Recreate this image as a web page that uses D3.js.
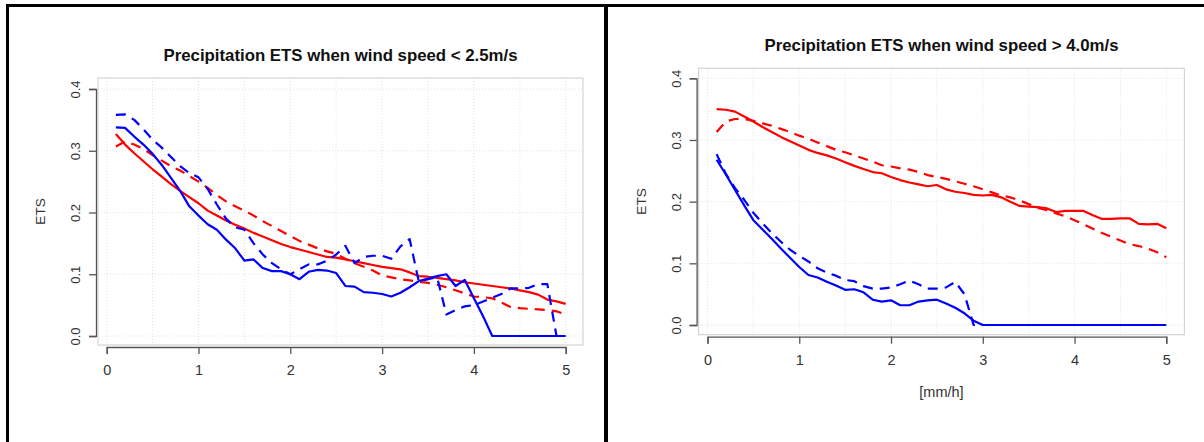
<!DOCTYPE html>
<html><head><meta charset="utf-8">
<script src="https://cdn.jsdelivr.net/npm/d3@7"></script>
<style>
body{margin:0;background:#fff}
svg{display:block}
text{font-family:"Liberation Sans",Arial,Helvetica,sans-serif}
</style>
</head><body>
<svg id="chart" width="1204" height="442"></svg>
<script>
// ---------------- data ----------------
const thresholds = [0.1,0.2,0.3,0.4,0.5,0.6,0.7,0.8,0.9,1.0,
  1.1,1.2,1.3,1.4,1.5,1.6,1.7,1.8,1.9,2.0,
  2.1,2.2,2.3,2.4,2.5,2.6,2.7,2.8,2.9,3.0,
  3.1,3.2,3.3,3.4,3.5,3.6,3.7,3.8,3.9,4.0,
  4.1,4.2,4.3,4.4,4.5,4.6,4.7,4.8,4.9,5.0];

const xTickValues = [0,1,2,3,4,5];
const yTickValues = [0.0,0.1,0.2,0.3,0.4];
const xGridValues = [0,0.5,1,1.5,2,2.5,3,3.5,4,4.5,5];

const lowTitle = "Precipitation ETS when wind speed < 2.5m/s";
const highTitle = "Precipitation ETS when wind speed > 4.0m/s";
const yAxisTitle = "ETS";
const xAxisTitle = "[mm/h]";

// wind speed < 2.5 m/s
const lowBlueSolid = [0.338,0.337,0.323,0.310,0.295,0.277,0.256,0.235,0.210,0.195,
  0.181,0.172,0.156,0.142,0.122,0.124,0.110,0.105,0.105,0.100,
  0.092,0.104,0.107,0.106,0.102,0.081,0.080,0.071,0.070,0.068,
  0.064,0.070,0.079,0.089,0.093,0.097,0.100,0.081,0.091,0.061,
  0.032,0.000,0.000,0.000,0.000,0.000,0.000,0.000,0.000,0.000];
const lowBlueDashed = [0.358,0.359,0.350,0.335,0.318,0.305,0.290,0.275,0.264,0.257,
  0.238,0.213,0.190,0.176,0.172,0.150,0.132,0.118,0.108,0.100,
  0.108,0.116,0.116,0.122,0.132,0.146,0.118,0.128,0.130,0.130,
  0.125,0.145,0.157,0.088,0.092,0.095,0.035,0.042,0.048,0.050,
  0.056,0.062,0.068,0.077,0.077,0.078,0.084,0.084,0.000,0.000];
const lowRedSolid = [0.327,0.310,0.296,0.283,0.270,0.258,0.246,0.235,0.225,0.215,
  0.203,0.195,0.187,0.180,0.174,0.167,0.161,0.155,0.149,0.144,
  0.140,0.136,0.132,0.128,0.127,0.124,0.121,0.118,0.115,0.112,
  0.110,0.108,0.103,0.097,0.096,0.094,0.092,0.090,0.087,0.085,
  0.083,0.081,0.079,0.077,0.074,0.071,0.067,0.059,0.056,0.052];
const lowRedDashed = [0.307,0.315,0.310,0.303,0.293,0.284,0.275,0.268,0.259,0.250,
  0.240,0.228,0.218,0.210,0.203,0.195,0.186,0.178,0.170,0.162,
  0.154,0.148,0.142,0.137,0.133,0.125,0.118,0.112,0.106,0.098,
  0.095,0.092,0.090,0.088,0.086,0.083,0.079,0.074,0.069,0.064,
  0.063,0.061,0.054,0.047,0.045,0.044,0.043,0.042,0.040,0.035];

// wind speed > 4.0 m/s
const highBlueSolid = [0.268,0.244,0.219,0.194,0.170,0.155,0.140,0.124,0.109,0.094,
  0.081,0.077,0.070,0.064,0.057,0.058,0.053,0.041,0.038,0.040,
  0.032,0.032,0.038,0.040,0.041,0.035,0.028,0.019,0.007,0.000,
  0.000,0.000,0.000,0.000,0.000,0.000,0.000,0.000,0.000,0.000,
  0.000,0.000,0.000,0.000,0.000,0.000,0.000,0.000,0.000,0.000];
const highBlueDashed = [0.277,0.245,0.222,0.203,0.182,0.165,0.149,0.135,0.122,0.112,
  0.103,0.092,0.085,0.080,0.073,0.071,0.063,0.059,0.059,0.061,
  0.066,0.072,0.066,0.059,0.059,0.061,0.070,0.050,0.000,0.000,
  0.000,0.000,0.000,0.000,0.000,0.000,0.000,0.000,0.000,0.000,
  0.000,0.000,0.000,0.000,0.000,0.000,0.000,0.000,0.000,0.000];
const highRedSolid = [0.350,0.349,0.346,0.338,0.330,0.321,0.313,0.305,0.298,0.291,
  0.284,0.279,0.275,0.270,0.264,0.258,0.253,0.248,0.246,0.240,
  0.235,0.231,0.228,0.225,0.227,0.220,0.216,0.214,0.211,0.210,
  0.211,0.207,0.200,0.193,0.192,0.191,0.189,0.183,0.185,0.185,
  0.185,0.178,0.172,0.172,0.173,0.173,0.164,0.163,0.164,0.157];
const highRedDashed = [0.313,0.330,0.334,0.334,0.331,0.327,0.323,0.318,0.313,0.307,
  0.302,0.296,0.290,0.284,0.280,0.275,0.270,0.265,0.259,0.257,
  0.254,0.252,0.248,0.243,0.240,0.237,0.233,0.229,0.225,0.220,
  0.215,0.210,0.207,0.202,0.196,0.190,0.186,0.181,0.176,0.170,
  0.163,0.156,0.149,0.143,0.137,0.131,0.128,0.124,0.118,0.110];

// ---------------- layout ----------------
const panels = [
  { title: lowTitle, box: {l: 98, t: 78, r: 583, b: 345}, xr: [106.7, 565.7], yr: [336, 89],
    titleY: 61, series: [
      {v: lowRedSolid, c: "#ff0000", dash: null},
      {v: lowRedDashed, c: "#ff0000", dash: "10,7"},
      {v: lowBlueSolid, c: "#0000ff", dash: null},
      {v: lowBlueDashed, c: "#0000ff", dash: "10,7"}], xlab: false },
  { title: highTitle, box: {l: 698.6, t: 68.3, r: 1184.4, b: 334.7}, xr: [707.5, 1166.3], yr: [325, 78.3],
    titleY: 50.5, series: [
      {v: highRedSolid, c: "#ff0000", dash: null},
      {v: highRedDashed, c: "#ff0000", dash: "10,7"},
      {v: highBlueSolid, c: "#0000ff", dash: null},
      {v: highBlueDashed, c: "#0000ff", dash: "10,7"}], xlab: true }
];

const svg = d3.select("#chart");
svg.append("rect").attr("width", 1204).attr("height", 442).attr("fill", "#fff");

// frame borders
svg.append("rect").attr("x", 6).attr("y", 4).attr("width", 1198).attr("height", 3).attr("fill", "#000");
svg.append("rect").attr("x", 6).attr("y", 4).attr("width", 3).attr("height", 438).attr("fill", "#000");
svg.append("rect").attr("x", 604).attr("y", 4).attr("width", 4).attr("height", 438).attr("fill", "#000");

panels.forEach(p => {
  const g = svg.append("g");
  const x = d3.scaleLinear().domain([0, 5]).range(p.xr);
  const y = d3.scaleLinear().domain([0, 0.4]).range(p.yr);
  const B = p.box;

  // grid
  g.append("g").selectAll("line").data(xGridValues).join("line")
    .attr("x1", d => x(d)).attr("x2", d => x(d))
    .attr("y1", B.t).attr("y2", B.b)
    .attr("stroke", "#e2e2e2").attr("stroke-width", 1).attr("stroke-dasharray", "1,2");
  g.append("g").selectAll("line").data(yTickValues).join("line")
    .attr("x1", B.l).attr("x2", B.r)
    .attr("y1", d => y(d)).attr("y2", d => y(d))
    .attr("stroke", "#e2e2e2").attr("stroke-width", 1).attr("stroke-dasharray", "1,2");

  // box
  g.append("rect").attr("x", B.l).attr("y", B.t).attr("width", B.r - B.l).attr("height", B.b - B.t)
    .attr("fill", "none").attr("stroke", "#d4d4d4").attr("stroke-width", 1.2);

  // lines
  const line = d3.line().x((d, i) => x(thresholds[i])).y(d => y(d));
  p.series.forEach(s => {
    g.append("path").datum(s.v).attr("d", line)
      .attr("fill", "none").attr("stroke", s.c).attr("stroke-width", 2.2)
      .attr("stroke-linejoin", "round")
      .attr("stroke-dasharray", s.dash);
  });

  // y axis
  const ya = g.append("g").attr("transform", `translate(${B.l - 2},0)`)
    .attr("color", "#555")
    .call(d3.axisLeft(y).tickValues(yTickValues).tickFormat(d3.format(".1f")).tickSizeOuter(0).tickSize(7));
  ya.select(".domain").attr("stroke-width", 1.3);
  ya.selectAll(".tick line").attr("stroke-width", 1.3);
  ya.selectAll(".tick text")
    .attr("transform", "rotate(-90)").attr("x", 0).attr("y", -16).attr("dy", "0")
    .attr("text-anchor", "middle").attr("fill", "#333")
    .style("font-size", "13px").style("font-family", '"Liberation Sans",Arial,sans-serif');

  // x axis
  const xa = g.append("g").attr("transform", `translate(0,${B.b + 2})`)
    .attr("color", "#555")
    .call(d3.axisBottom(x).tickValues(xTickValues).tickFormat(d3.format("d")).tickSizeOuter(0).tickSize(7));
  xa.select(".domain").attr("stroke-width", 1.3);
  xa.selectAll(".tick line").attr("stroke-width", 1.3);
  xa.selectAll(".tick text")
    .attr("y", 28).attr("dy", "0").attr("fill", "#333")
    .style("font-size", "14.5px").style("font-family", '"Liberation Sans",Arial,sans-serif');

  // title
  const cx = (B.l + B.r) / 2;
  g.append("text").attr("x", cx).attr("y", p.titleY).attr("text-anchor", "middle")
    .attr("font-weight", "bold").attr("font-size", 16.5).attr("fill", "#111")
    .attr("textLength", 354).attr("lengthAdjust", "spacingAndGlyphs")
    .text(p.title);

  // y label
  const cy = (B.t + B.b) / 2;
  g.append("text").attr("transform", `translate(${B.l - 53},${cy}) rotate(-90)`)
    .attr("text-anchor", "middle").attr("font-size", 13.5).attr("fill", "#333")
    .text(yAxisTitle);

  if (p.xlab) {
    g.append("text").attr("x", cx).attr("y", B.b + 62).attr("text-anchor", "middle")
      .attr("font-size", 14.5).attr("fill", "#333")
      .text(xAxisTitle);
  }
});
</script>
</body></html>
